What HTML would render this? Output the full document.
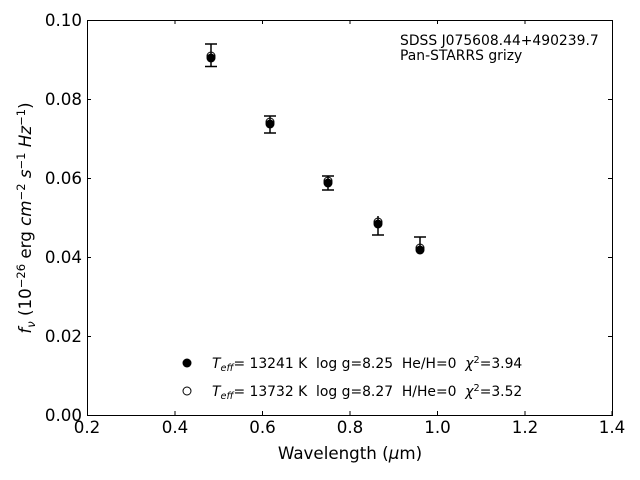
<!DOCTYPE html>
<html><head><style>body{margin:0;background:#fff}svg{display:block}text{font-family:"DejaVu Sans","Liberation Sans",sans-serif;white-space:pre}</style></head><body>
<svg width="640" height="480" viewBox="0 0 640 480" xml:space="preserve">
<rect x="87.5" y="20.5" width="525" height="395" fill="none" stroke="#000" stroke-width="1"/>
<g stroke="#000" stroke-width="1">
<line x1="87.5" y1="415" x2="87.5" y2="411"/><line x1="175" y1="415" x2="175" y2="411"/><line x1="262.5" y1="415" x2="262.5" y2="411"/><line x1="350" y1="415" x2="350" y2="411"/><line x1="437.5" y1="415" x2="437.5" y2="411"/><line x1="525" y1="415" x2="525" y2="411"/><line x1="612" y1="415" x2="612" y2="411"/>
<line x1="87.5" y1="20" x2="87.5" y2="24"/><line x1="175" y1="20" x2="175" y2="24"/><line x1="262.5" y1="20" x2="262.5" y2="24"/><line x1="350" y1="20" x2="350" y2="24"/><line x1="437.5" y1="20" x2="437.5" y2="24"/><line x1="525" y1="20" x2="525" y2="24"/>
<line x1="87" y1="336.5" x2="91" y2="336.5"/><line x1="87" y1="257.5" x2="91" y2="257.5"/><line x1="87" y1="178.5" x2="91" y2="178.5"/><line x1="87" y1="99.5" x2="91" y2="99.5"/>
<line x1="612" y1="336.5" x2="608" y2="336.5"/><line x1="612" y1="257.5" x2="608" y2="257.5"/><line x1="612" y1="178.5" x2="608" y2="178.5"/><line x1="612" y1="99.5" x2="608" y2="99.5"/>
</g>
<g font-size="16.7" text-anchor="middle">
<text x="87" y="433">0.2</text><text x="175" y="433">0.4</text><text x="262.5" y="433">0.6</text><text x="350" y="433">0.8</text><text x="437.5" y="433">1.0</text><text x="525" y="433">1.2</text><text x="612" y="433">1.4</text>
</g>
<g font-size="16.7" text-anchor="end">
<text x="82" y="421">0.00</text><text x="82" y="342">0.02</text><text x="82" y="263">0.04</text><text x="82" y="184">0.06</text><text x="82" y="105">0.08</text><text x="82" y="26">0.10</text>
</g>
<text x="350" y="459" font-size="16.7" text-anchor="middle">Wavelength (<tspan font-style="italic">μ</tspan>m)</text>
<text transform="translate(31,218) rotate(-90)" font-size="16.7" text-anchor="middle"><tspan font-style="italic">f</tspan><tspan font-style="italic" font-size="11.5" dy="4">ν</tspan><tspan dy="-4"> (10</tspan><tspan font-size="11.5" dy="-6">−26</tspan><tspan dy="6"> erg </tspan><tspan font-style="italic">cm</tspan><tspan font-size="11.5" dy="-6">−2</tspan><tspan dy="6"> </tspan><tspan font-style="italic">s</tspan><tspan font-size="11.5" dy="-6">−1</tspan><tspan dy="6"> </tspan><tspan font-style="italic">Hz</tspan><tspan font-size="11.5" dy="-6">−1</tspan><tspan dy="6">)</tspan></text>
<text x="400" y="45" font-size="13.9">SDSS J075608.44+490239.7</text>
<text x="400" y="60" font-size="13.9">Pan-STARRS grizy</text>
<g stroke="#000" stroke-width="1.5" fill="none">
<path d="M211 44V66.5M205 44H217M205 66.5H217"/>
<path d="M270 116V133M264 116H276M264 133H276"/>
<path d="M328 176V190M322 176H334M322 190H334"/>
<path d="M378 216V235M372 235H384"/>
<path d="M420 237V249M414 237H426"/>
</g>
<g fill="#000">
<circle cx="211" cy="58" r="4.5"/><circle cx="270" cy="124" r="4.5"/><circle cx="328" cy="183" r="4.5"/><circle cx="378" cy="224" r="4.5"/><circle cx="420" cy="250" r="4.5"/>
</g>
<g fill="none" stroke="#000" stroke-width="1">
<circle cx="211" cy="56" r="4"/><circle cx="270" cy="122" r="4"/><circle cx="328" cy="181" r="4"/><circle cx="378" cy="222" r="4"/><circle cx="420" cy="248" r="4"/>
</g>
<circle cx="187" cy="363" r="4.5" fill="#000"/>
<circle cx="187" cy="391" r="4" fill="#fff" stroke="#000"/>
<text x="212" y="368" font-size="13.9"><tspan font-style="italic">T</tspan><tspan font-style="italic" font-size="9.7" dy="3">eff</tspan><tspan dy="-3">= 13241 K  log g=8.25  He/H=0  </tspan><tspan font-style="italic">χ</tspan><tspan font-size="9.7" dy="-5">2</tspan><tspan dy="5">=3.94</tspan></text>
<text x="212" y="396" font-size="13.9"><tspan font-style="italic">T</tspan><tspan font-style="italic" font-size="9.7" dy="3">eff</tspan><tspan dy="-3">= 13732 K  log g=8.27  H/He=0  </tspan><tspan font-style="italic">χ</tspan><tspan font-size="9.7" dy="-5">2</tspan><tspan dy="5">=3.52</tspan></text>
</svg>
</body></html>
